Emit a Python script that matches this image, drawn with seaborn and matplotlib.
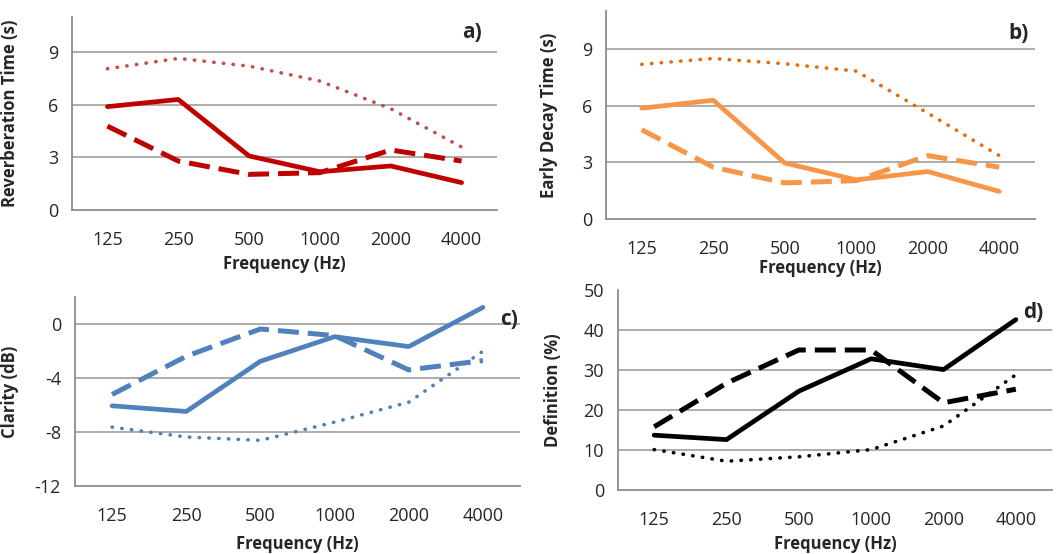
import numpy as np
import pandas as pd
import matplotlib.pyplot as plt
import seaborn as sns

# frequency bands (categorical x axis)
freqs = ["125", "250", "500", "1000", "2000", "4000"]

# a) reverberation time (s)
rt_solid = [5.89, 6.30, 3.08, 2.18, 2.51, 1.56]
rt_dashed = [4.78, 2.79, 2.03, 2.13, 3.42, 2.79]
rt_dotted = [8.05, 8.64, 8.20, 7.35, 5.77, 3.59]

# b) early decay time (s)
edt_solid = [5.86, 6.28, 2.96, 2.07, 2.51, 1.46]
edt_dashed = [4.72, 2.74, 1.91, 2.03, 3.35, 2.74]
edt_dotted = [8.18, 8.49, 8.21, 7.82, 5.60, 3.35]

# c) clarity (dB)
c80_solid = [-6.06, -6.48, -2.76, -0.94, -1.67, 1.23]
c80_dashed = [-5.22, -2.39, -0.37, -0.86, -3.40, -2.71]
c80_dotted = [-7.64, -8.37, -8.62, -7.27, -5.79, -2.02]

# d) definition (%)
d50_solid = [13.7, 12.6, 24.7, 32.8, 30.1, 42.6]
d50_dashed = [15.8, 26.7, 35.0, 35.0, 21.8, 25.2]
d50_dotted = [10.1, 7.2, 8.3, 10.1, 16.0, 28.8]

sns.set_style("white")
plt.rcParams['font.family'] = ['Open Sans', 'DejaVu Sans']
plt.rcParams['axes.unicode_minus'] = False

fig = plt.figure(figsize=(10.6, 5.54), dpi=100)
W, H = 1060, 554


def add_ax(left, top, right, bottom):
    return fig.add_axes([left / W, 1 - bottom / H, (right - left) / W, (bottom - top) / H])


panels = [
    dict(rect=(72, 17, 497, 210), data=(rt_solid, rt_dashed, rt_dotted),
         colors=("#C00000", "#C00000", "#C0504D"), ylim=(0, 11), yticks=[0, 3, 6, 9],
         ylabel="Reverberation Time (s)", tag="a)", tag_pos=(0.965, 0.92),
         xlab_y=-0.233, ylab_x=-0.125),
    dict(rect=(606, 11, 1035, 219), data=(edt_solid, edt_dashed, edt_dotted),
         colors=("#F79646", "#F79646", "#E46C0A"), ylim=(0, 11), yticks=[0, 3, 6, 9],
         ylabel="Early Decay Time (s)", tag="b)", tag_pos=(0.985, 0.89),
         xlab_y=-0.19, ylab_x=-0.112),
    dict(rect=(75, 297, 520, 486), data=(c80_solid, c80_dashed, c80_dotted),
         colors=("#4F81BD", "#4F81BD", "#4F81BD"), ylim=(-12, 2), yticks=[-12, -8, -4, 0],
         ylabel="Clarity (dB)", tag="c)", tag_pos=(0.995, 0.88),
         xlab_y=-0.259, ylab_x=-0.126),
    dict(rect=(618, 290, 1052, 490), data=(d50_solid, d50_dashed, d50_dotted),
         colors=("black", "black", "black"), ylim=(0, 50), yticks=[0, 10, 20, 30, 40, 50],
         ylabel="Definition (%)", tag="d)", tag_pos=(0.98, 0.89),
         xlab_y=-0.225, ylab_x=-0.129),
]

x = np.arange(len(freqs))
for p in panels:
    ax = add_ax(*p["rect"])
    solid, dashed, dotted = p["data"]
    c1, c2, c3 = p["colors"]
    for yt in p["yticks"][1:]:
        if yt < p["ylim"][1]:
            ax.axhline(yt, color="#A6A6A6", lw=1.3, zorder=0)
    sns.lineplot(x=x, y=dotted, ax=ax, color=c3, lw=2.6, linestyle=(0, (0.1, 2.6)),
                 dash_capstyle="round")
    sns.lineplot(x=x, y=dashed, ax=ax, color=c2, lw=3.6, linestyle=(0, (4.2, 1.8)))
    sns.lineplot(x=x, y=solid, ax=ax, color=c1, lw=3.4)
    ax.set_xlim(-0.5, 5.5)
    ax.set_ylim(*p["ylim"])
    ax.set_yticks(p["yticks"])
    ax.set_xticks(list(x) + [5.5])
    ax.set_xticklabels(freqs + [""])
    for s in ["top", "right"]:
        ax.spines[s].set_visible(False)
    for s in ["left", "bottom"]:
        ax.spines[s].set_color("#8C8C8C")
        ax.spines[s].set_linewidth(1.3)
    ax.tick_params(axis="x", direction="out", length=6, width=1.3, color="#8C8C8C",
                   labelsize=13, pad=9)
    ax.tick_params(axis="y", direction="out", length=6, width=1.3, color="#8C8C8C",
                   labelsize=13, pad=4)
    ax.set_ylabel(p["ylabel"], fontsize=12, fontweight="bold")
    ax.set_xlabel("Frequency (Hz)", fontsize=12, fontweight="bold")
    ax.xaxis.set_label_coords(0.5, p["xlab_y"])
    ax.yaxis.set_label_coords(p["ylab_x"], 0.5)
    ax.text(p["tag_pos"][0], p["tag_pos"][1], p["tag"], transform=ax.transAxes,
            ha="right", va="center", fontsize=15, fontweight="bold")

fig.savefig("out.png", dpi=100)
